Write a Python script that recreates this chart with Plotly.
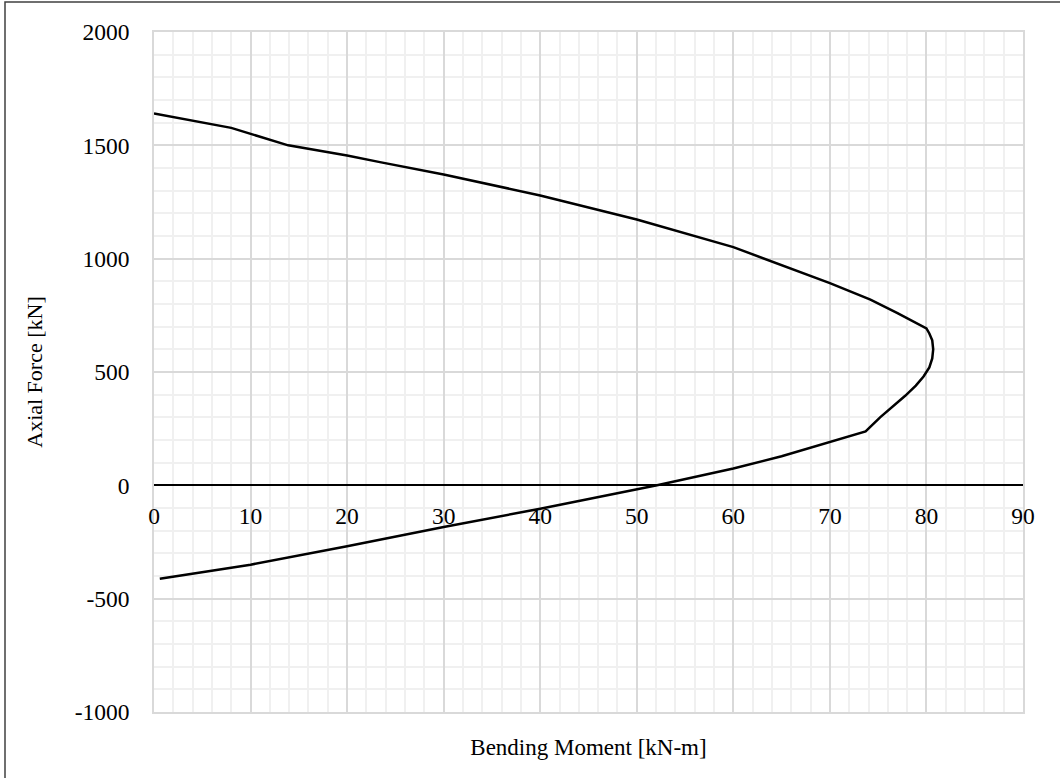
import plotly.graph_objects as go

# Interaction curve: Bending moment [kN-m] vs Axial force [kN]
moment = [0.0, 8.0, 13.9, 20.0, 23.4, 30.0, 40.0, 50.0, 60.0, 70.0, 74.2, 77.0, 80.0,
          80.3, 80.6, 80.7, 80.6, 80.3, 79.7, 78.9, 77.8, 76.6, 75.2, 73.7,
          70.0, 65.0, 60.0, 56.0, 52.1, 40.0, 30.0, 20.0, 10.0, 0.6]
axial = [1640, 1577, 1500, 1455, 1426, 1371, 1279, 1173, 1051, 892, 819, 760, 692,
         670, 640, 600, 560, 520, 480, 440, 395, 350, 300, 238,
         191, 128, 74, 36, 0, -103, -184, -269, -350, -412]

x_ticks = [0, 10, 20, 30, 40, 50, 60, 70, 80, 90]
y_ticks = [-1000, -500, 0, 500, 1000, 1500, 2000]
y_labels = ["-1000", "-500", "0", "500", "1000", "1500", "2000"]

FONT = "Liberation Serif, Times New Roman, serif"
MAJOR = "#d9d9d9"
MINOR = "#f0f0f0"

fig = go.Figure()
fig.add_trace(go.Scatter(x=moment, y=axial, mode="lines",
                         line=dict(color="black", width=2.5),
                         showlegend=False, hoverinfo="skip"))
# invisible trace to activate the labelled axis
fig.add_trace(go.Scatter(x=[x_ticks[0], x_ticks[-1]], y=[0, 0], xaxis="x2",
                         mode="lines", line=dict(color="rgba(0,0,0,0)"),
                         showlegend=False, hoverinfo="skip"))

ymin, ymax = y_ticks[0], y_ticks[-1]
zero_pos = (0 - ymin) / (ymax - ymin)

W, H = 1060, 778
L, T, PW, PH = 154, 32, 869, 680

fig.update_layout(
    width=W, height=H,
    margin=dict(l=L, r=W - L - PW, t=T, b=H - T - PH),
    paper_bgcolor="white", plot_bgcolor="white",
    font=dict(family=FONT, size=21, color="black"),
    xaxis=dict(range=[x_ticks[0], x_ticks[-1]], tickvals=x_ticks, showticklabels=False,
               showgrid=True, gridcolor=MAJOR, gridwidth=1.5,
               minor=dict(dtick=2, showgrid=True, gridcolor=MINOR, gridwidth=1.5),
               zeroline=False, showline=True, mirror=True, linecolor=MAJOR, linewidth=1.5,
               ticks="", title=dict(text="Bending Moment [kN-m]", standoff=26,
                                    font=dict(size=23))),
    xaxis2=dict(range=[x_ticks[0], x_ticks[-1]], tickvals=x_ticks, overlaying="x",
                anchor="free", position=zero_pos, showgrid=False, zeroline=False,
                showline=False, ticks="", ticklabelstandoff=14,
                tickfont=dict(family=FONT, size=23.5)),
    yaxis=dict(range=[ymin, ymax], tickvals=y_ticks, ticktext=y_labels,
               showgrid=True, gridcolor=MAJOR, gridwidth=1.5,
               minor=dict(dtick=100, showgrid=True, gridcolor=MINOR, gridwidth=1.5),
               zeroline=True, zerolinecolor="black", zerolinewidth=1.5,
               showline=True, mirror=True, linecolor=MAJOR, linewidth=1.5,
               ticks="", ticklabelstandoff=18, tickfont=dict(family=FONT, size=23.5),
               title=dict(text="Axial Force [kN]", standoff=26, font=dict(size=22))),
    shapes=[dict(type="rect", xref="paper", yref="paper",
                 x0=(5 - L) / PW, x1=(1066 - L) / PW,
                 y0=-(H + 10 - T - PH) / PH, y1=1 + (T - 2) / PH,
                 line=dict(color="#404040", width=1.5), layer="below")],
)

fig.write_html("out.html", config={"displayModeBar": False},
               post_script="document.body.style.margin='0';")
